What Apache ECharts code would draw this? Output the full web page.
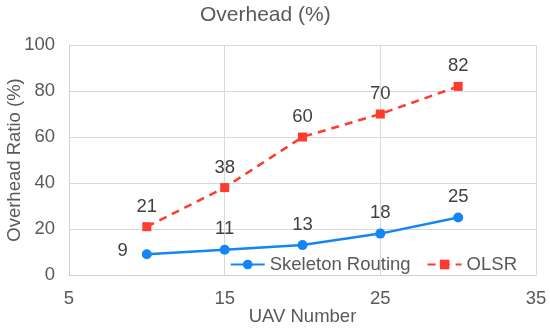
<!DOCTYPE html>
<html><head><meta charset="utf-8">
<script src="https://cdn.jsdelivr.net/npm/echarts@6/dist/echarts.min.js"></script>
<style>html,body{margin:0;padding:0;background:#fff}#c{width:550px;height:328px}</style>
</head><body><div id="c"></div>
<script>
const uavNumbers = [10, 15, 20, 25, 30];
const skeletonRouting = [9, 11, 13, 18, 25];
const olsr = [21, 38, 60, 70, 82];
const titleText = 'Overhead (%)';
const xName = 'UAV Number';
const yName = 'Overhead Ratio (%)';

const font = '"Liberation Sans", Arial, sans-serif';
const txt = '#595959';
const fs = 18.5;
const chart = echarts.init(document.getElementById('c'), null, {renderer: 'canvas'});
const lab = {show: true, position: 'top', fontFamily: font, fontSize: fs, color: '#404040', distance: 6};
chart.setOption({
  animation: false,
  title: {text: titleText, left: 195, top: 0, textStyle: {fontFamily: font, fontSize: 21, fontWeight: 'normal', color: txt}},
  grid: {left: 69, right: 14, top: 45, bottom: 53, outerBoundsMode: 'none', containLabel: false},
  legend: {
    right: 28, top: 250, itemGap: 16, itemWidth: 34, itemHeight: 12,
    textStyle: {fontFamily: font, fontSize: fs, color: txt},
    data: ['Skeleton Routing', 'OLSR']
  },
  xAxis: {
    type: 'value', min: 5, max: 35, interval: 10,
    name: xName, nameLocation: 'middle', nameGap: 32, nameMoveOverlap: false,
    nameTextStyle: {fontFamily: font, fontSize: fs, color: txt},
    axisLine: {show: true, lineStyle: {color: '#d0d0d0'}},
    axisTick: {show: false},
    axisLabel: {fontFamily: font, fontSize: fs, color: txt, margin: 14},
    splitLine: {show: true, lineStyle: {color: '#d9d9d9'}}
  },
  yAxis: {
    type: 'value', min: 0, max: 100, interval: 20,
    name: yName, nameLocation: 'middle', nameGap: 45, nameMoveOverlap: false,
    nameTextStyle: {fontFamily: font, fontSize: fs, color: txt},
    axisLine: {show: true, lineStyle: {color: '#d0d0d0'}},
    axisTick: {show: false},
    axisLabel: {fontFamily: font, fontSize: fs, color: txt, margin: 14},
    splitLine: {show: true, lineStyle: {color: '#d9d9d9'}}
  },
  series: [
    {
      name: 'Skeleton Routing', type: 'line',
      data: uavNumbers.map((x, i) => i === 0
        ? {value: [x, skeletonRouting[i]], label: {position: 'left', distance: 14, offset: [0, -3]}}
        : [x, skeletonRouting[i]]),
      symbol: 'circle', symbolSize: 10,
      lineStyle: {color: '#1485f5', width: 2.5},
      itemStyle: {color: '#1485f5'},
      label: lab
    },
    {
      name: 'OLSR', type: 'line',
      data: uavNumbers.map((x, i) => [x, olsr[i]]),
      symbol: 'rect', symbolSize: 9,
      lineStyle: {color: '#ff3b30', width: 2.5, type: [8, 6]},
      itemStyle: {color: '#ff3b30'},
      label: lab
    }
  ]
});
</script></body></html>
